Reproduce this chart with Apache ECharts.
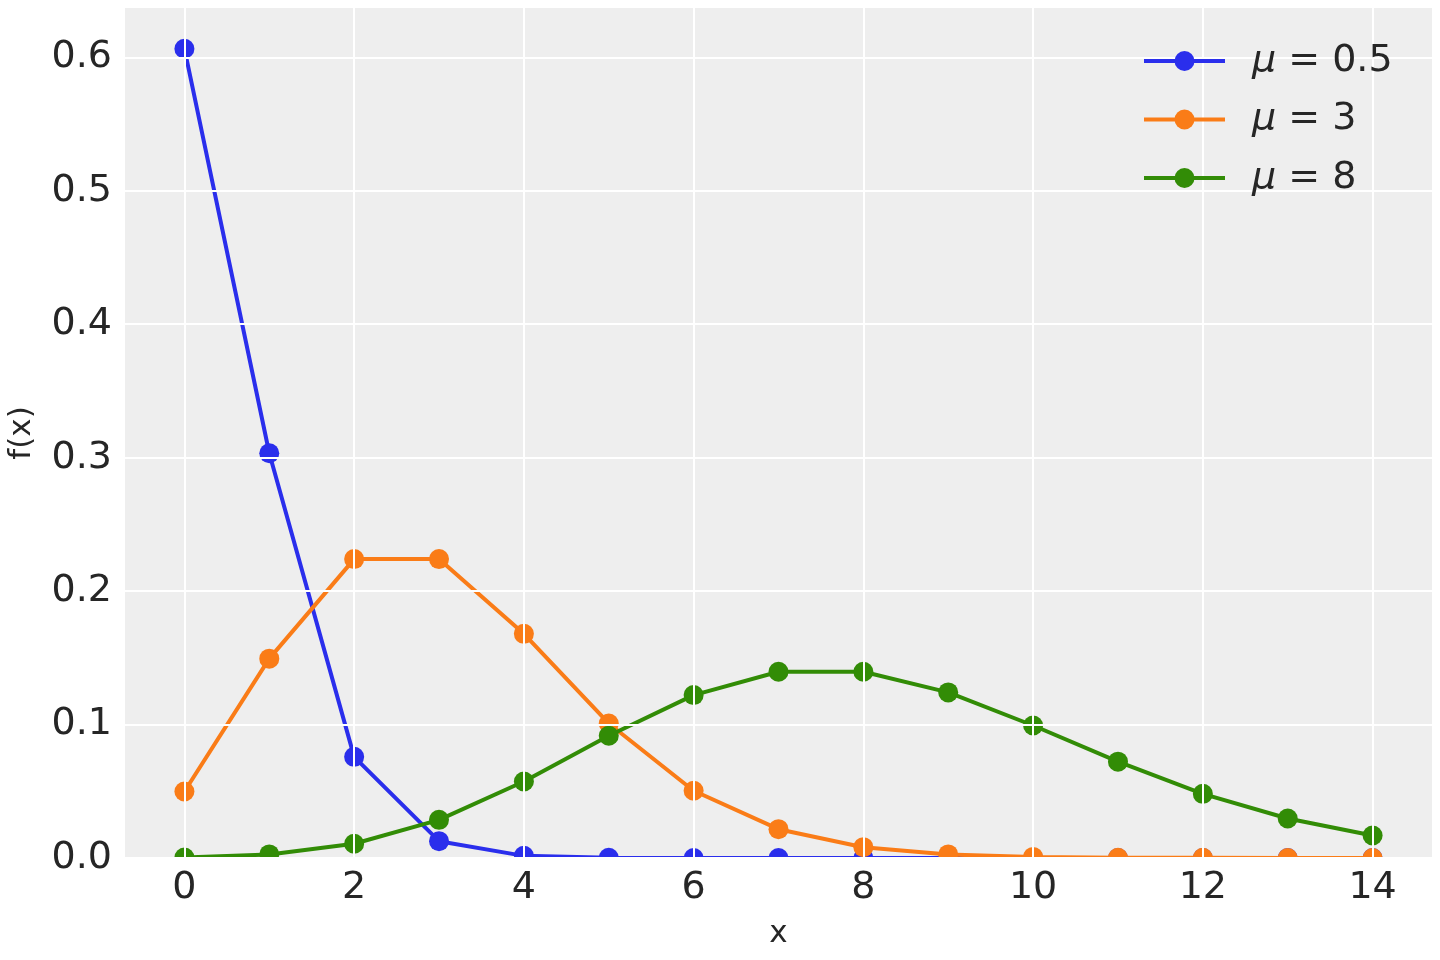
<!DOCTYPE html>
<html>
<head>
<meta charset="utf-8">
<script src="https://cdn.jsdelivr.net/npm/echarts@6/dist/echarts.min.js"></script>
<style>html,body{margin:0;padding:0;background:#fff}#c{width:1440px;height:960px}</style>
</head>
<body>
<div id="c"></div>
<script>
const xs = [0,1,2,3,4,5,6,7,8,9,10,11,12,13,14];
const seriesNames = ['μ = 0.5', 'μ = 3', 'μ = 8'];
const mu05 = [0.6065, 0.3033, 0.0758, 0.0126, 0.0016, 0.0002, 0.0000, 0.0000, 0.0000, 0.0000, 0.0000, 0.0000, 0.0000, 0.0000, 0.0000];
const mu3  = [0.0498, 0.1494, 0.2240, 0.2240, 0.1680, 0.1008, 0.0504, 0.0216, 0.0081, 0.0027, 0.0008, 0.0002, 0.0001, 0.0000, 0.0000];
const mu8  = [0.0003, 0.0027, 0.0107, 0.0286, 0.0573, 0.0916, 0.1221, 0.1396, 0.1396, 0.1241, 0.0993, 0.0722, 0.0481, 0.0296, 0.0169];
const xTicks = [0,2,4,6,8,10,12,14];
const yTicks = [0,0.1,0.2,0.3,0.4,0.5,0.6];
const colors = ['#2a2eec', '#fa7c17', '#328c06'];

const FONT = 'DejaVu Sans';
const TXT = '#262626';
const allVals = [mu05, mu3, mu8];

const chart = echarts.init(document.getElementById('c'));
const option = {
  animation: false,
  backgroundColor: '#ffffff',
  grid: { left: 125, right: 8, top: 8, bottom: 102, show: true, backgroundColor: '#eeeeee', borderWidth: 0,
    containLabel: false, outerBoundsMode: 'none' },
  xAxis: {
    type: 'value', min: -0.7, max: 14.7, z: 10,
    name: 'x', nameLocation: 'middle', nameGap: 60,
    nameTextStyle: { fontFamily: FONT, fontSize: 31, color: TXT },
    axisLine: { show: false }, axisTick: { show: false, customValues: xTicks },
    axisLabel: { customValues: xTicks, fontFamily: FONT, fontSize: 38, color: TXT, margin: 11 },
    splitLine: { show: true, lineStyle: { color: '#ffffff', width: 2 } }
  },
  yAxis: {
    type: 'value', min: 0, max: 0.637, z: 10,
    name: 'f(x)', nameLocation: 'middle', nameGap: 88,
    nameTextStyle: { fontFamily: FONT, fontSize: 31, color: TXT },
    axisLine: { show: false }, axisTick: { show: false, customValues: yTicks },
    axisLabel: { customValues: yTicks, fontFamily: FONT, fontSize: 38, color: TXT, margin: 13,
      formatter: v => v.toFixed(1) },
    splitLine: { show: true, lineStyle: { color: '#ffffff', width: 2 } }
  },
  legend: {
    orient: 'vertical', left: 1137, top: 36, z: 20,
    itemWidth: 81, itemHeight: 25, itemGap: 18.5,
    data: seriesNames,
    lineStyle: { width: 4 },
    formatter: name => '{m|μ}' + name.slice(1),
    textStyle: { fontFamily: FONT, fontSize: 38, color: TXT, lineHeight: 40, padding: [0,0,0,22],
      rich: { m: { fontFamily: FONT, fontStyle: 'italic', fontSize: 38, color: TXT } } }
  },
  graphic: [{
    type: 'rect', z: 5, silent: true,
    shape: { x: 100, y: 858, width: 1340, height: 102 },
    style: { fill: '#ffffff' }
  }],
  series: seriesNames.map((n, i) => ({
    name: n, type: 'line', z: 2 + i * 0.1,
    data: xs.map((x, j) => [x, allVals[i][j]]),
    symbol: 'circle', symbolSize: 20, clip: false,
    lineStyle: { color: colors[i], width: 4 },
    itemStyle: { color: colors[i] }
  }))
};
chart.setOption(option);
</script>
</body>
</html>
